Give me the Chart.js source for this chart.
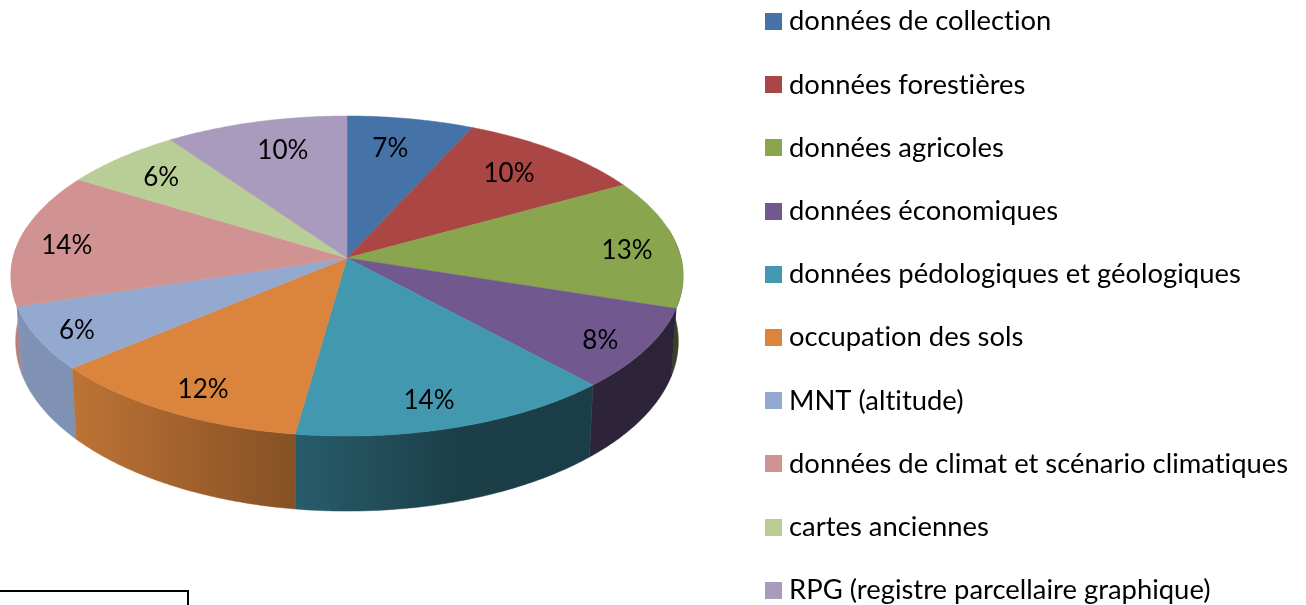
<!DOCTYPE html>
<html><head><meta charset="utf-8">
<style>html,body{margin:0;padding:0;background:#fff;overflow:hidden}canvas{display:block}</style>
<script src="https://cdn.jsdelivr.net/npm/chart.js@4"></script></head>
<body><canvas id="c" width="1306" height="605"></canvas>
<script>
const categories = ["données de collection","données forestières","données agricoles","données économiques","données pédologiques et géologiques","occupation des sols","MNT (altitude)","données de climat et scénario climatiques","cartes anciennes","RPG (registre parcellaire graphique)"];
const shares = [6.8,10.1,13.1,8.2,14.0,11.6,6.4,13.6,6.4,9.8];
const colors = ["#4572A7","#AA4643","#89A54E","#71588F","#4198AF","#DB843D","#93A9CF","#D19392","#B9CD96","#A99BBD"];
const labelRadii = [0.761,0.766,0.845,0.87,0.851,0.859,0.885,0.851,0.798,0.762];
const labelNudgeDeg = [-1.6,-0.3,2.2,1.8,2.1,-1.5,-0.9,-1.7,-0.9,1.8];

// projection of the tilted disc
const CX=347, CY=258, A=333.9, B=158, K=-0.1125;
function rimPoint(a){const u=Math.cos(a),v=Math.sin(a),w=1+K*v;return [CX+A*u/w,CY+B*v/w];}
function innerPoint(a,r){const u=r*Math.cos(a),v=r*Math.sin(a),w=1+K*v;return [CX+A*u/w,CY+B*v/w];}
function lowPoint(p){return [CX+(p[0]-CX)*0.986,p[1]+67.5+(p[1]-310)*0.06];}
function shade(hex,f){const n=parseInt(hex.slice(1),16);return `rgb(${Math.round((n>>16)*f)},${Math.round(((n>>8)&255)*f)},${Math.round((n&255)*f)})`;}
const shadeStops=[[0,0.87],[0.1,0.86],[0.42,0.61],[0.67,0.41],[1,0.4]];

const disc3d={id:'disc3d',
 beforeDatasetsDraw(chart){
  const ctx=chart.ctx, arcs=chart.getDatasetMeta(0).data.map((el,i)=>({el,i}));
  const ordered=arcs.slice().sort((p,q)=>Math.sin((p.el.startAngle+p.el.endAngle)/2)-Math.sin((q.el.startAngle+q.el.endAngle)/2));
  for(const {el,i} of ordered){
    const pts=[];
    const n=Math.max(4,Math.ceil((el.endAngle-el.startAngle)*90));
    for(let s=0;s<=n;s++){const a=el.startAngle+(el.endAngle-el.startAngle)*s/n; if(Math.sin(a)>-0.2)pts.push(rimPoint(a));}
    if(pts.length<2)continue;
    const g=ctx.createLinearGradient(11,0,683,0);
    shadeStops.forEach(([o,f])=>g.addColorStop(o,shade(colors[i],f)));
    ctx.beginPath();
    pts.forEach((p,j)=>j?ctx.lineTo(p[0],p[1]):ctx.moveTo(p[0],p[1]));
    pts.slice().reverse().forEach(p=>{const q=lowPoint(p);ctx.lineTo(q[0],q[1]);});
    ctx.closePath();ctx.fillStyle=g;ctx.fill();ctx.strokeStyle=g;ctx.lineWidth=0.5;ctx.stroke();
  }
  for(const {el,i} of arcs){
    const n=Math.ceil((el.endAngle-el.startAngle)*90);
    ctx.beginPath();ctx.moveTo(CX,CY);
    for(let s=0;s<=n;s++){const p=rimPoint(el.startAngle+(el.endAngle-el.startAngle)*s/n);ctx.lineTo(p[0],p[1]);}
    ctx.closePath();ctx.fillStyle=colors[i];ctx.fill();ctx.strokeStyle=colors[i];ctx.lineWidth=0.5;ctx.stroke();
  }
  ctx.letterSpacing='0.01px';
  ctx.fillStyle='#000';ctx.font='26px Lato';ctx.textAlign='center';ctx.textBaseline='middle';
  for(const {el,i} of arcs){
    const p=innerPoint((el.startAngle+el.endAngle)/2+labelNudgeDeg[i]*Math.PI/180,labelRadii[i]);
    ctx.fillText(Math.round(chart.data.datasets[0].data[i])+'%',p[0],p[1]);
  }
  // legend
  ctx.textAlign='left';ctx.font='27.4px Lato';
  chart.data.labels.forEach((t,i)=>{
    const y=21.5+63.2*i;
    ctx.fillStyle=colors[i];ctx.fillRect(765,Math.round(y-8.5),17,17);
    ctx.fillStyle='#000';ctx.fillText(t,789,y);
  });
  // cropped text box at lower left
  ctx.strokeStyle='#000';ctx.lineWidth=2;ctx.beginPath();ctx.moveTo(0,591);ctx.lineTo(188,591);ctx.lineTo(188,606);ctx.stroke();
  return false;
 }};

new Chart(document.getElementById('c'),{type:'pie',
 data:{labels:categories,datasets:[{data:shares,backgroundColor:colors,borderWidth:0}]},
 options:{responsive:false,animation:false,events:[],plugins:{legend:{display:false},tooltip:{enabled:false}}},
 plugins:[disc3d]});
</script></body></html>
